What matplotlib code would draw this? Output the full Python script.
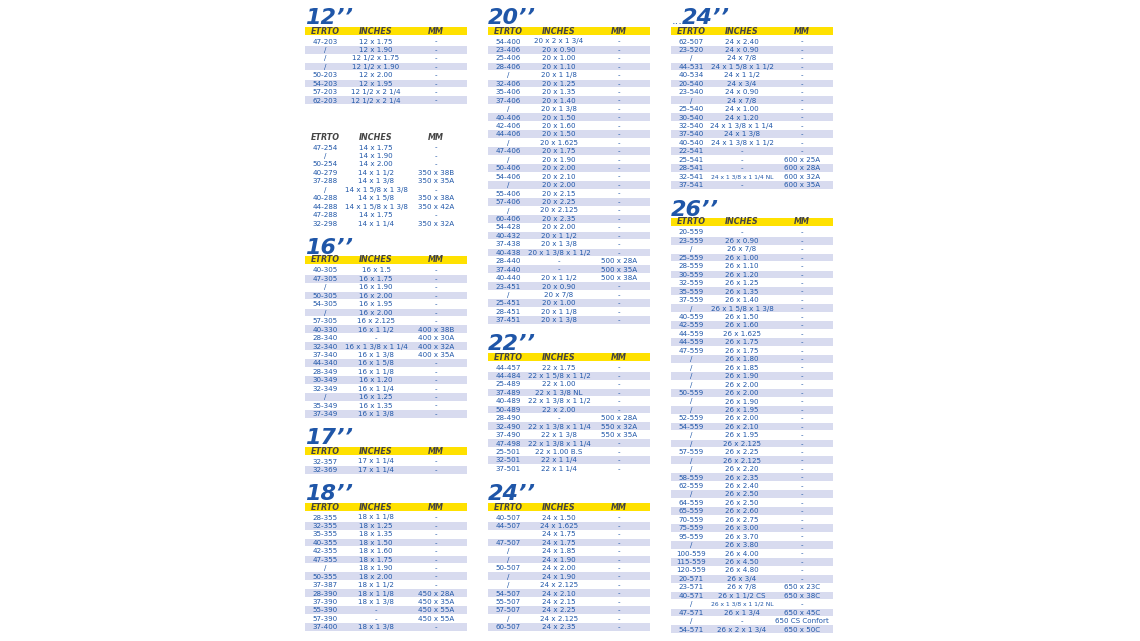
import matplotlib
matplotlib.use("Agg")
import matplotlib.pyplot as plt
from matplotlib.patches import Rectangle

t12 = [("47-203","12 x 1.75","-"),("/","12 x 1.90","-"),("/","12 1/2 x 1.75","-"),("/","12 1/2 x 1.90","-"),
       ("50-203","12 x 2.00","-"),("54-203","12 x 1.95","-"),("57-203","12 1/2 x 2 1/4","-"),("62-203","12 1/2 x 2 1/4","-")]
t14 = [("47-254","14 x 1.75","-"),("/","14 x 1.90","-"),("50-254","14 x 2.00","-"),("40-279","14 x 1 1/2","350 x 38B"),
       ("37-288","14 x 1 3/8","350 x 35A"),("/","14 x 1 5/8 x 1 3/8","-"),("40-288","14 x 1 5/8","350 x 38A"),
       ("44-288","14 x 1 5/8 x 1 3/8","350 x 42A"),("47-288","14 x 1.75","-"),("32-298","14 x 1 1/4","350 x 32A")]
t16 = [("40-305","16 x 1.5","-"),("47-305","16 x 1.75","-"),("/","16 x 1.90","-"),("50-305","16 x 2.00","-"),
       ("54-305","16 x 1.95","-"),("/","16 x 2.00","-"),("57-305","16 x 2.125","-"),("40-330","16 x 1 1/2","400 x 38B"),
       ("28-340","-","400 x 30A"),("32-340","16 x 1 3/8 x 1 1/4","400 x 32A"),("37-340","16 x 1 3/8","400 x 35A"),
       ("44-340","16 x 1 5/8","-"),("28-349","16 x 1 1/8","-"),("30-349","16 x 1.20","-"),("32-349","16 x 1 1/4","-"),
       ("/","16 x 1.25","-"),("35-349","16 x 1.35","-"),("37-349","16 x 1 3/8","-")]
t17 = [("32-357","17 x 1 1/4","-"),("32-369","17 x 1 1/4","-")]
t18 = [("28-355","18 x 1 1/8","-"),("32-355","18 x 1.25","-"),("35-355","18 x 1.35","-"),("40-355","18 x 1.50","-"),
       ("42-355","18 x 1.60","-"),("47-355","18 x 1.75","-"),("/","18 x 1.90","-"),("50-355","18 x 2.00","-"),
       ("37-387","18 x 1 1/2","-"),("28-390","18 x 1 1/8","450 x 28A"),("37-390","18 x 1 3/8","450 x 35A"),
       ("55-390","-","450 x 55A"),("57-390","-","450 x 55A"),("37-400","18 x 1 3/8","-")]
t20 = [("54-400","20 x 2 x 1 3/4","-"),("23-406","20 x 0.90","-"),("25-406","20 x 1.00","-"),("28-406","20 x 1.10","-"),
       ("/","20 x 1 1/8","-"),("32-406","20 x 1.25","-"),("35-406","20 x 1.35","-"),("37-406","20 x 1.40","-"),
       ("/","20 x 1 3/8","-"),("40-406","20 x 1.50","-"),("42-406","20 x 1.60","-"),("44-406","20 x 1.50","-"),
       ("/","20 x 1.625","-"),("47-406","20 x 1.75","-"),("/","20 x 1.90","-"),("50-406","20 x 2.00","-"),
       ("54-406","20 x 2.10","-"),("/","20 x 2.00","-"),("55-406","20 x 2.15","-"),("57-406","20 x 2.25","-"),
       ("/","20 x 2.125","-"),("60-406","20 x 2.35","-"),("54-428","20 x 2.00","-"),("40-432","20 x 1 1/2","-"),
       ("37-438","20 x 1 3/8","-"),("40-438","20 x 1 3/8 x 1 1/2","-"),("28-440","-","500 x 28A"),
       ("37-440","-","500 x 35A"),("40-440","20 x 1 1/2","500 x 38A"),("23-451","20 x 0.90","-"),
       ("/","20 x 7/8","-"),("25-451","20 x 1.00","-"),("28-451","20 x 1 1/8","-"),("37-451","20 x 1 3/8","-")]
t22 = [("44-457","22 x 1.75","-"),("44-484","22 x 1 5/8 x 1 1/2","-"),("25-489","22 x 1.00","-"),
       ("37-489","22 x 1 3/8 NL","-"),("40-489","22 x 1 3/8 x 1 1/2","-"),("50-489","22 x 2.00","-"),
       ("28-490","-","500 x 28A"),("32-490","22 x 1 3/8 x 1 1/4","550 x 32A"),("37-490","22 x 1 3/8","550 x 35A"),
       ("47-498","22 x 1 3/8 x 1 1/4","-"),("25-501","22 x 1.00 B.S","-"),("32-501","22 x 1 1/4","-"),("37-501","22 x 1 1/4","-")]
t24a = [("40-507","24 x 1.50","-"),("44-507","24 x 1.625","-"),("","24 x 1.75","-"),("47-507","24 x 1.75","-"),
        ("/","24 x 1.85","-"),("/","24 x 1.90","-"),("50-507","24 x 2.00","-"),("/","24 x 1.90","-"),
        ("/","24 x 2.125","-"),("54-507","24 x 2.10","-"),("55-507","24 x 2.15","-"),("57-507","24 x 2.25","-"),
        ("/","24 x 2.125","-"),("60-507","24 x 2.35","-")]
t24b = [("62-507","24 x 2.40","-"),("23-520","24 x 0.90","-"),("/","24 x 7/8","-"),("44-531","24 x 1 5/8 x 1 1/2","-"),
        ("40-534","24 x 1 1/2","-"),("20-540","24 x 3/4","-"),("23-540","24 x 0.90","-"),("/","24 x 7/8","-"),
        ("25-540","24 x 1.00","-"),("30-540","24 x 1.20","-"),("32-540","24 x 1 3/8 x 1 1/4","-"),
        ("37-540","24 x 1 3/8","-"),("40-540","24 x 1 3/8 x 1 1/2","-"),("22-541","-","-"),("25-541","-","600 x 25A"),
        ("28-541","-","600 x 28A"),("32-541","24 x 1 3/8 x 1 1/4 NL","600 x 32A"),("37-541","-","600 x 35A")]
t26 = [("20-559","-","-"),("23-559","26 x 0.90","-"),("/","26 x 7/8","-"),("25-559","26 x 1.00","-"),
       ("28-559","26 x 1.10","-"),("30-559","26 x 1.20","-"),("32-559","26 x 1.25","-"),("35-559","26 x 1.35","-"),
       ("37-559","26 x 1.40","-"),("/","26 x 1 5/8 x 1 3/8","-"),("40-559","26 x 1.50","-"),("42-559","26 x 1.60","-"),
       ("44-559","26 x 1.625","-"),("44-559","26 x 1.75","-"),("47-559","26 x 1.75","-"),("/","26 x 1.80","-"),
       ("/","26 x 1.85","-"),("/","26 x 1.90","-"),("/","26 x 2.00","-"),("50-559","26 x 2.00","-"),
       ("/","26 x 1.90","-"),("/","26 x 1.95","-"),("52-559","26 x 2.00","-"),("54-559","26 x 2.10","-"),
       ("/","26 x 1.95","-"),("/","26 x 2.125","-"),("57-559","26 x 2.25","-"),("/","26 x 2.125","-"),
       ("/","26 x 2.20","-"),("58-559","26 x 2.35","-"),("62-559","26 x 2.40","-"),("/","26 x 2.50","-"),
       ("64-559","26 x 2.50","-"),("65-559","26 x 2.60","-"),("70-559","26 x 2.75","-"),("75-559","26 x 3.00","-"),
       ("95-559","26 x 3.70","-"),("/","26 x 3.80","-"),("100-559","26 x 4.00","-"),("115-559","26 x 4.50","-"),
       ("120-559","26 x 4.80","-"),("20-571","26 x 3/4","-"),("23-571","26 x 7/8","650 x 23C"),
       ("40-571","26 x 1 1/2 CS","650 x 38C"),("/","26 x 1 3/8 x 1 1/2 NL","-"),("47-571","26 x 1 3/4","650 x 45C"),
       ("/","-","650 CS Confort"),("54-571","26 x 2 x 1 3/4","650 x 50C")]
headers = ["ETRTO", "INCHES", "MM"]

BLUE = "#1f56a8"
STRIPE = "#d8dbef"
YEL = "#ffe100"
STEP = 8.45
W = 162

fig = plt.figure(figsize=(11.4, 6.41), dpi=100)
ax = fig.add_axes([0, 0, 1, 1])
ax.set_xlim(0, 1140); ax.set_ylim(641, 0); ax.axis("off")

def table(x0, title, hy, rows, striped=True, yellow=True, prefix=""):
    if title:
        if prefix:
            ax.text(x0 + 1, hy - 7, prefix, fontsize=8, color=BLUE, va="baseline", ha="left")
        ax.text(x0 + (11 if prefix else 0), hy - 6.5, title, fontsize=16, fontweight="bold", style="italic",
                color=BLUE, va="baseline", ha="left")
    if yellow:
        ax.add_patch(Rectangle((x0, hy - 4.2), W, 8.4, color=YEL, lw=0))
    for cx, h in zip((20, 71, 131), headers):
        ax.text(x0 + cx, hy, h, fontsize=5.8, style="italic", fontweight="bold", color="#444444",
                ha="center", va="center")
    for i, r in enumerate(rows):
        y = hy + 10.5 + i * STEP
        if striped and i % 2 == 1:
            ax.add_patch(Rectangle((x0, y - STEP / 2), W, STEP - 0.6, color=STRIPE, lw=0))
        for cx, s in zip((20, 71, 131), r):
            fs = 4.3 if len(s) > 18 else 5.1
            ax.text(x0 + cx, y, s, fontsize=fs, color=BLUE, ha="center", va="center")

table(305, "12’’", 31, t12)
table(305, None, 137, t14, striped=False, yellow=False)
table(305, "16’’", 260, t16)
table(305, "17’’", 451, t17)
table(305, "18’’", 507, t18)
table(488, "20’’", 31, t20)
table(488, "22’’", 357, t22)
table(488, "24’’", 507, t24a)
table(671, "24’’", 31, t24b, prefix="...")
table(671, "26’’", 222, t26)

fig.savefig("out.png", dpi=100, facecolor="white")
